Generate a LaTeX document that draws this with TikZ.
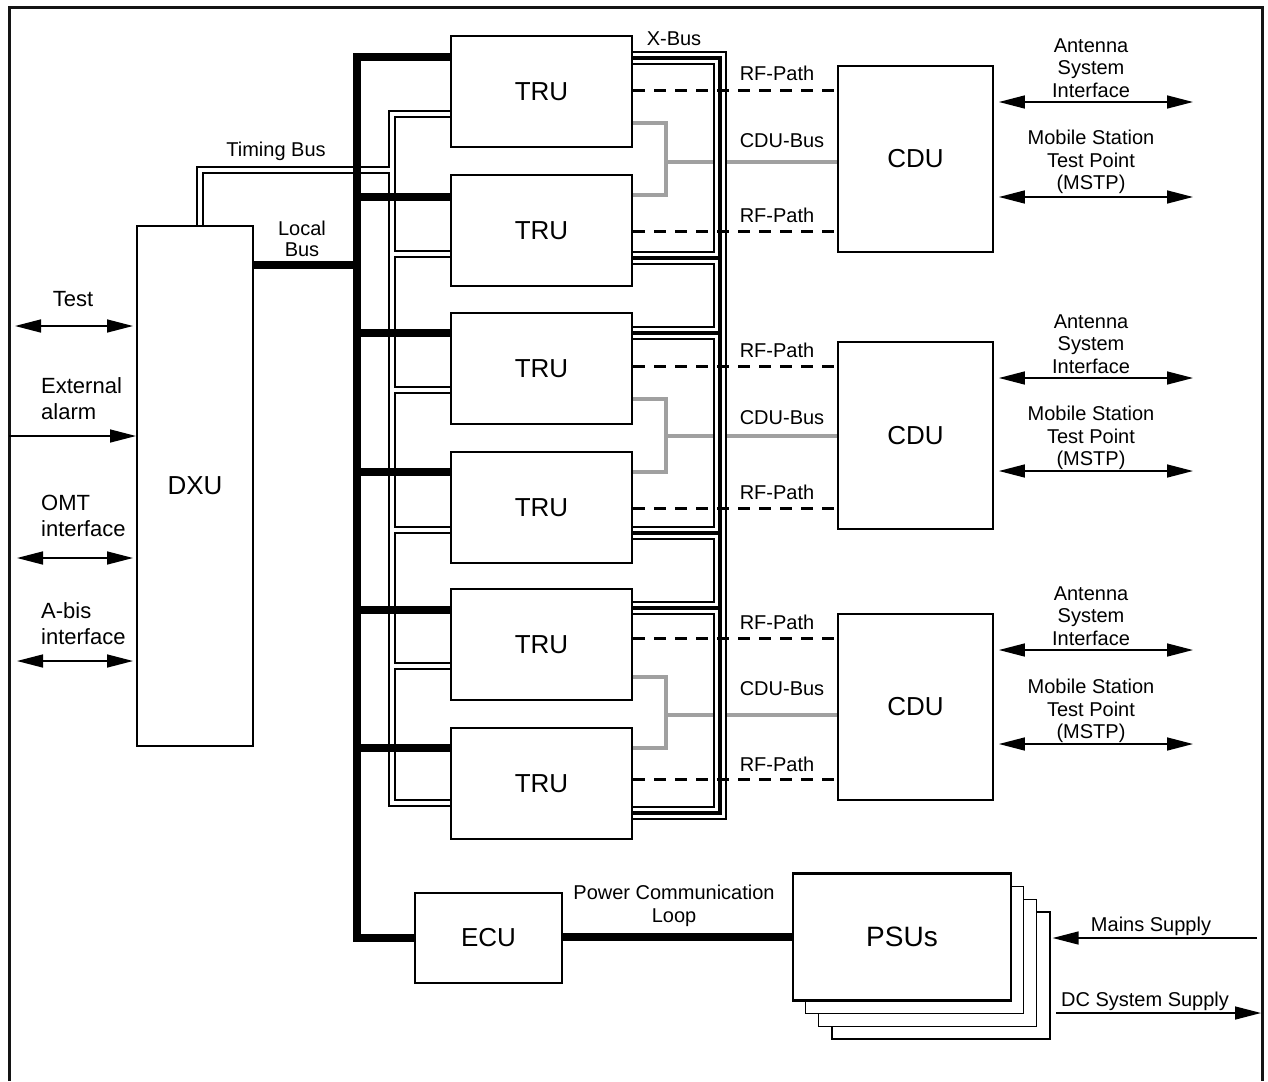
\documentclass[tikz,border=0pt]{standalone}
\usepackage{fontspec}
\setmainfont{Liberation Sans}
\usetikzlibrary{arrows.meta}
\pgfdeclarelayer{bg}
\pgfsetlayers{bg,main}
\definecolor{cdugrey}{RGB}{160,160,160}
\definecolor{framecol}{RGB}{20,20,20}
\tikzset{
  blk/.style={draw, line width=2pt, fill=white, inner sep=0pt, font=\fontsize{26}{30}\selectfont},
  thinblk/.style={draw, line width=1.3pt, fill=white, inner sep=0pt},
  lab/.style={inner sep=0pt, align=center, font=\fontsize{20}{22.5}\selectfont},
  llab/.style={inner sep=0pt, align=left, font=\fontsize{22}{26}\selectfont},
  bigtip/.tip={Triangle[length=26pt,width=13pt]},
  twoway/.style={line width=1.5pt, bigtip-bigtip},
  oneway/.style={line width=1.5pt, -bigtip},
  lbus/.style={line width=7.5pt, line join=miter},
  cdubus/.style={line width=4pt, draw=cdugrey, line join=miter},
  rfpath/.style={line width=3pt, dash pattern=on 12pt off 9pt},
}
\newcommand\tbpaths[1]{%
  \draw[#1] (t1.west |- 0,114) -- (392,114) -- (392,803) -- (t6.west |- 0,803);
  \draw[#1] (392,254) -- (t2.west |- 0,254);
  \draw[#1] (392,390) -- (t3.west |- 0,390);
  \draw[#1] (392,530) -- (t4.west |- 0,530);
  \draw[#1] (392,666) -- (t5.west |- 0,666);
  \draw[#1] (200,0 |- dxu.north) -- (200,170) -- (392,170);
}
\newcommand\xbpaths[1]{%
  \draw[#1] (t1.east |- 0,58) -- (720,58) -- (720,813) -- (t6.east |- 0,813);
  \draw[#1] (t2.east |- 0,258) -- (720,258);
  \draw[#1] (t3.east |- 0,333) -- (720,333);
  \draw[#1] (t4.east |- 0,533) -- (720,533);
  \draw[#1] (t5.east |- 0,608) -- (720,608);
}
\begin{document}
\begin{tikzpicture}[x=1pt,y=-1pt]
\useasboundingbox (0,0) rectangle (1268,1081);
% frame (open at bottom)
\draw[line width=3pt, framecol, line join=miter] (9,1081) -- (9,8) -- (1262,8) -- (1262,1081);

% ---------- blocks ----------
\node[blk, minimum width=116pt, minimum height=520pt] (dxu) at (195,486) {DXU};
\node[blk, minimum width=181pt, minimum height=111pt] (t1) at (541.5,91.5) {TRU};
\node[blk, minimum width=181pt, minimum height=111pt] (t2) at (541.5,230.5) {TRU};
\node[blk, minimum width=181pt, minimum height=111pt] (t3) at (541.5,368.5) {TRU};
\node[blk, minimum width=181pt, minimum height=111pt] (t4) at (541.5,507.5) {TRU};
\node[blk, minimum width=181pt, minimum height=111pt] (t5) at (541.5,644.5) {TRU};
\node[blk, minimum width=181pt, minimum height=111pt] (t6) at (541.5,783.5) {TRU};
\node[blk, line width=1.8pt, minimum width=155pt, minimum height=186pt] (c1) at (915.5,159) {CDU};
\node[blk, line width=1.8pt, minimum width=155pt, minimum height=187pt] (c2) at (915.5,435.5) {CDU};
\node[blk, line width=1.8pt, minimum width=155pt, minimum height=186pt] (c3) at (915.5,707) {CDU};
\node[blk, minimum width=147pt, minimum height=90pt] (ecu) at (488.5,938) {ECU};
\node[thinblk, minimum width=218pt, minimum height=127pt] (psu4) at (941,975.5) {};
\node[thinblk, minimum width=218pt, minimum height=127pt] (psu3) at (927.5,963) {};
\node[thinblk, minimum width=218pt, minimum height=127pt] (psu2) at (914.5,950) {};
\node[blk, line width=2.5pt, minimum width=218pt, minimum height=127pt, font=\fontsize{28}{32}\selectfont] (psu1) at (902,937) {PSUs};

% ---------- connectors (behind blocks) ----------
\begin{pgfonlayer}{bg}
  % CDU buses (grey)
  \draw[cdubus] (t1.east |- 0,123) -- (666,123) -- (666,195) -- (t2.east |- 0,195);
  \draw[cdubus] (666,162) -- (c1.west |- 0,162);
  \draw[cdubus] (t3.east |- 0,399) -- (666,399) -- (666,472) -- (t4.east |- 0,472);
  \draw[cdubus] (666,436) -- (c2.west |- 0,436);
  \draw[cdubus] (t5.east |- 0,677) -- (666,677) -- (666,748) -- (t6.east |- 0,748);
  \draw[cdubus] (666,715) -- (c3.west |- 0,715);

  % timing bus (double line)
  \tbpaths{line width=8.4pt, line join=miter}
  \tbpaths{line width=4.4pt, white, line join=miter}

  % local bus (thick), on top of the timing bus
  \draw[lbus] (t1.west |- 0,57) -- (357,57) -- (357,938) -- (ecu.west |- 0,938);
  \draw[lbus] (dxu.east |- 0,265) -- (357,265);
  \draw[lbus] (357,197) -- (t2.west |- 0,197);
  \draw[lbus] (357,333) -- (t3.west |- 0,333);
  \draw[lbus] (357,472) -- (t4.west |- 0,472);
  \draw[lbus] (357,610) -- (t5.west |- 0,610);
  \draw[lbus] (357,748) -- (t6.west |- 0,748);
  % power communication loop
  \draw[lbus] (ecu.east |- 0,937) -- (psu1.west |- 0,937);

  % X-bus (triple line)
  \xbpaths{line width=13.5pt, line join=miter}
  \xbpaths{line width=9.5pt, white, line join=miter}
  \xbpaths{line width=4pt, line join=miter}

  % RF paths
  \draw[rfpath] (t1.east |- 0,90) -- (c1.west |- 0,90);
  \draw[rfpath] (t2.east |- 0,231) -- (c1.west |- 0,231);
  \draw[rfpath] (t3.east |- 0,366) -- (c2.west |- 0,366);
  \draw[rfpath] (t4.east |- 0,508) -- (c2.west |- 0,508);
  \draw[rfpath] (t5.east |- 0,638) -- (c3.west |- 0,638);
  \draw[rfpath] (t6.east |- 0,779) -- (c3.west |- 0,779);
\end{pgfonlayer}

% ---------- left interfaces ----------
\coordinate (testL) at (15,326);
\coordinate (extL) at (9,436);
\coordinate (omtL) at (17,558);
\coordinate (abisL) at (17,661);
\draw[twoway, shorten >=3pt] (testL) -- (dxu.west |- testL);
\draw[oneway] (extL) -- (dxu.west |- extL);
\draw[twoway, shorten >=3pt] (omtL) -- (dxu.west |- omtL);
\draw[twoway, shorten >=3pt] (abisL) -- (dxu.west |- abisL);
\node[llab] (ltest) at (73,299) {Test};
\node[llab, anchor=west] (lext) at (41,399) {External\\alarm};
\node[llab, anchor=west] (lomt) at (41,516) {OMT\\interface};
\node[llab, anchor=west] (labis) at (41,624) {A-bis\\interface};

% ---------- right interfaces ----------
\coordinate (ant1) at (1193,102);
\coordinate (ms1) at (1193,197);
\coordinate (ant2) at (1193,378);
\coordinate (ms2) at (1193,471);
\coordinate (ant3) at (1193,650);
\coordinate (ms3) at (1193,744);
\foreach \c/\a/\m in {c1/ant1/ms1, c2/ant2/ms2, c3/ant3/ms3}{
  \draw[twoway, shorten <=5pt] (\c.east |- \a) -- (\a);
  \draw[twoway, shorten <=5pt] (\c.east |- \m) -- (\m);
}
\node[lab] (la1) at (1091,68) {Antenna\\System\\Interface};
\node[lab] (lm1) at (1091,162) {Mobile Station\\Test Point\\(MSTP)};
\node[lab] (la2) at (1091,344) {Antenna\\System\\Interface};
\node[lab] (lm2) at (1091,438) {Mobile Station\\Test Point\\(MSTP)};
\node[lab] (la3) at (1091,616) {Antenna\\System\\Interface};
\node[lab] (lm3) at (1091,711) {Mobile Station\\Test Point\\(MSTP)};

% ---------- power ----------
\coordinate (mainsR) at (1257,938);
\coordinate (dcL) at (1056,1013);
\coordinate (dcR) at (1261,1013);
\draw[oneway, shorten >=2pt] (mainsR) -- (psu4.east |- mainsR);
\draw[oneway] (dcL) -- (dcR);
\node[lab] (lmains) at (1151,926) {Mains Supply};
\node[lab] (ldc) at (1145,1001) {DC System Supply};
\node[lab] (lpcl) at (674,906) {Power Communication\\Loop};

% ---------- bus labels ----------
\node[lab] (lxbus) at (674,39) {X-Bus};
\node[lab] (ltiming) at (276,151) {Timing Bus};
\node[lab, font=\fontsize{20}{21}\selectfont] (llocal) at (302,239) {Local\\Bus};
\foreach \y/\n in {73/1,215/2,350/3,492/4,622/5,764/6}
  \node[lab] (lrf\n) at (777,\y) {RF-Path};
\foreach \y/\n in {141/1,418/2,689/3}
  \node[lab] (lcdu\n) at (782,\y) {CDU-Bus};
\end{tikzpicture}
\end{document}
